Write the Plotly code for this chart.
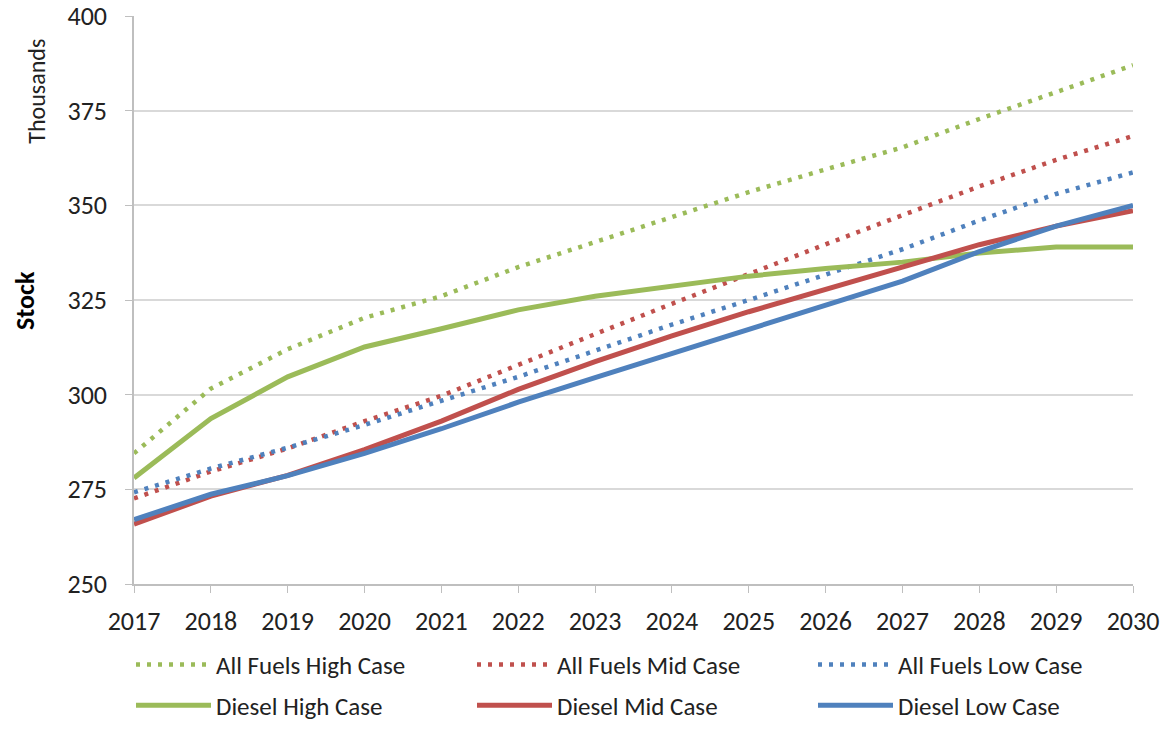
import plotly.graph_objects as go

years = list(range(2017, 2031))

all_high = [284.5, 301.6, 312.0, 320.3, 326.0, 333.7, 340.3, 347.0, 353.5, 359.5, 365.3, 372.8, 380.0, 387.0]
all_mid = [272.6, 279.7, 285.8, 293.0, 299.7, 308.0, 316.0, 324.0, 332.0, 339.7, 347.4, 355.0, 362.0, 368.3]
all_low = [274.2, 280.5, 286.0, 292.0, 298.4, 304.7, 311.6, 318.5, 325.0, 331.8, 338.4, 346.0, 353.0, 358.7]
diesel_high = [278.0, 293.7, 304.7, 312.6, 317.4, 322.4, 326.0, 328.7, 331.3, 333.3, 335.0, 337.4, 339.0, 339.0]
diesel_mid = [265.8, 273.2, 278.7, 285.5, 293.0, 301.4, 308.7, 315.5, 321.9, 327.9, 333.8, 339.6, 344.5, 348.6]
diesel_low = [267.0, 273.7, 278.6, 284.5, 291.0, 298.0, 304.5, 310.8, 317.2, 323.6, 330.0, 337.8, 344.5, 350.0]

names = ["All Fuels High Case", "All Fuels Mid Case", "All Fuels Low Case",
         "Diesel High Case", "Diesel Mid Case", "Diesel Low Case"]
series = [all_high, all_mid, all_low, diesel_high, diesel_mid, diesel_low]
colors = ["#9BBB59", "#C0504D", "#4F81BD", "#9BBB59", "#C0504D", "#4F81BD"]
dashes = ["4px,7px"] * 3 + ["solid"] * 3
legends = ["legend"] * 3 + ["legend2"] * 3

FONT = "Carlito, Calibri, Lato, sans-serif"

W, H = 1168, 740
# target plot area in screen pixels (body margin removed via post_script)
X0, X1, Y0, Y1 = 134, 1133, 16, 586
L, T, R, B = X0, Y0, W - X1, H - Y1
pw = W - L - R
ph = H - T - B


def px_x(x):
    return (x - L) / pw


def px_y(y):
    return (H - B - y) / ph


fig = go.Figure()
for name, vals, col, dash, lg in zip(names, series, colors, dashes, legends):
    fig.add_trace(go.Scatter(
        x=years, y=vals, name=name, mode="lines", legend=lg,
        line=dict(color=col, width=4.5 if dash != "solid" else 5, dash=dash),
    ))

leg_common = dict(
    orientation="h", xanchor="left", yanchor="middle",
    entrywidth=251, entrywidthmode="pixels",
    font=dict(family=FONT, size=25, color="#222"),
    itemwidth=75, bgcolor="rgba(0,0,0,0)",
)

fig.update_layout(
    width=W, height=H,
    margin=dict(l=L, r=R, t=T, b=B),
    paper_bgcolor="white", plot_bgcolor="white",
    font=dict(family=FONT, size=26, color="#222"),
    showlegend=True,
    legend=dict(x=px_x(131), y=px_y(667), **leg_common),
    legend2=dict(x=px_x(131), y=px_y(708), **leg_common),
    xaxis=dict(
        range=[2017, 2030], tickmode="array", tickvals=years,
        ticktext=[str(y) for y in years],
        showgrid=False, zeroline=False, automargin=False,
        showline=True, linecolor="#BFBFBF", linewidth=1.5,
        ticks="outside", ticklen=7, tickcolor="#BFBFBF",
        tickfont=dict(size=26), ticklabelstandoff=6,
        ticklabeloverflow="allow",
    ),
    yaxis=dict(
        range=[250, 400], tickmode="array", tickvals=[250, 275, 300, 325, 350, 375, 400],
        showgrid=True, gridcolor="#D9D9D9", gridwidth=1.5, zeroline=False,
        automargin=False,
        showline=True, linecolor="#BFBFBF", linewidth=1.5,
        ticks="outside", ticklen=7, tickcolor="#BFBFBF",
        tickfont=dict(size=26), ticklabelstandoff=13,
        ticklabeloverflow="allow",
    ),
    annotations=[
        dict(text="<b>Stock</b>", x=px_x(25), y=px_y(302), xref="paper", yref="paper",
             xanchor="center", yanchor="middle",
             showarrow=False, textangle=-90, font=dict(size=26, color="#000")),
        dict(text="Thousands", x=px_x(37), y=px_y(92), xref="paper", yref="paper",
             xanchor="center", yanchor="middle",
             showarrow=False, textangle=-90, font=dict(size=24, color="#222")),
    ],
)

fig.write_html("out.html", config={"displayModeBar": False},
               post_script="document.body.style.margin='0';")
